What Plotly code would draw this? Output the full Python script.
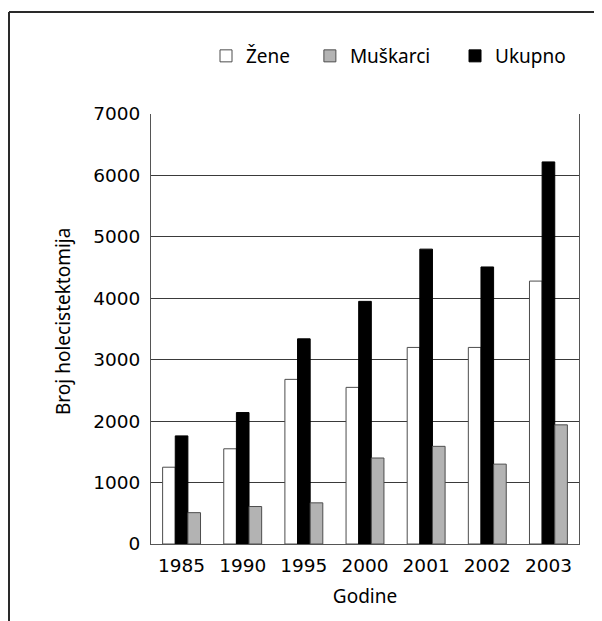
import plotly.graph_objects as go

years = ["1985", "1990", "1995", "2000", "2001", "2002", "2003"]
zene = [1250, 1550, 2680, 2550, 3200, 3200, 4280]
ukupno = [1760, 2140, 3340, 3950, 4800, 4510, 6220]
muskarci = [510, 610, 670, 1400, 1590, 1300, 1940]
y_ticks = [0, 1000, 2000, 3000, 4000, 5000, 6000, 7000]

# page body has an 8px margin: figure coords = screen coords - 8
OFF = 8
W, H = 602 - OFF, 621 - OFF
L, R, T, B = 151 - OFF, 23, 114 - OFF, 77
pw, ph = W - L - R, H - T - B


def px(sx):
    return (sx - OFF - L) / pw


def py(sy):
    return (H - B - (sy - OFF)) / ph


edge = "#4d4d4d"
NB = "\u00a0"
fig = go.Figure()
fig.add_trace(go.Bar(name="Žene" + NB * 3, x=years, y=zene, legendrank=1,
                     marker=dict(color="white", line=dict(color=edge, width=1))))
fig.add_trace(go.Bar(name="Ukupno", x=years, y=ukupno, legendrank=3,
                     marker=dict(color="black", line=dict(color="black", width=1))))
fig.add_trace(go.Bar(name="Muškarci" + NB * 4, x=years, y=muskarci, legendrank=2,
                     marker=dict(color="#b3b3b3", line=dict(color=edge, width=1))))

title_font = dict(family="Noto Sans, Lato, sans-serif", size=19, color="black")
tick_font = dict(family="DejaVu Sans, Verdana, sans-serif", size=18.5, color="black")

fig.update_layout(
    width=W, height=H,
    margin=dict(l=L, r=R, t=T, b=B),
    paper_bgcolor="white", plot_bgcolor="white",
    barmode="group", bargap=0.38, bargroupgap=0,
    showlegend=True,
    legend=dict(orientation="h", x=px(206), y=py(56), yanchor="middle", xanchor="left",
                font=title_font, traceorder="normal", itemwidth=30,
                bgcolor="rgba(0,0,0,0)"),
    xaxis=dict(type="category", tickfont=tick_font, showgrid=False,
               showline=True, linecolor="#555", linewidth=1, mirror=False,
               ticks="", ticklabelstandoff=5,
               title=dict(text="Godine", font=title_font, standoff=14)),
    yaxis=dict(range=[0, 7000], tickvals=y_ticks, tickfont=tick_font,
               showgrid=True, gridcolor="#3a3a3a", gridwidth=1,
               showline=True, linecolor="#555", linewidth=1, mirror=True,
               ticks="", ticklabelstandoff=6, zeroline=False),
    annotations=[dict(text="Broj holecistektomija", textangle=-90,
                      x=px(63), y=py(322), xref="paper", yref="paper",
                      showarrow=False, font=title_font,
                      xanchor="center", yanchor="middle")],
    shapes=[
        dict(type="line", xref="paper", yref="paper", x0=px(9), x1=px(660),
             y0=py(12), y1=py(12), line=dict(color="#2a2a2a", width=2)),
        dict(type="line", xref="paper", yref="paper", x0=px(9), x1=px(9),
             y0=py(12), y1=py(680), line=dict(color="#2a2a2a", width=2)),
    ],
)

fig.write_html("out.html")
